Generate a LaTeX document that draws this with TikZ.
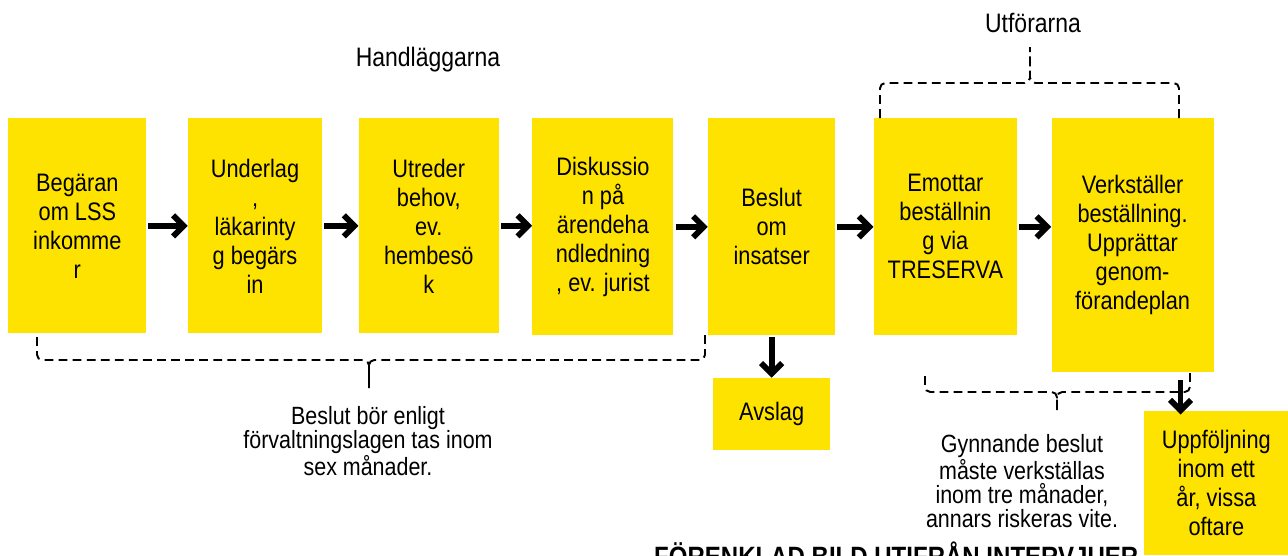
\documentclass[tikz,border=0pt]{standalone}
\usepackage{fontspec}
\setmainfont{Liberation Sans}[FakeStretch=0.86]
\usetikzlibrary{positioning,arrows.meta}
\definecolor{gul}{HTML}{FFE300}
\newcommand{\Skala}{0.02}
\tikzset{
	ruta/.style={fill=gul, inner sep=0pt, align=center, font=\fontsize{14.4}{16.5}\selectfont},
	pil/.style={line width=3.3pt, -{Straight Barb[length=6pt,width=12pt]}, shorten <=1pt, shorten >=0pt},
	streck/.style={dash pattern=on 5pt off 3pt, line width=1.1pt, rounded corners=3pt},
	notis/.style={align=center, font=\fontsize{14.2}{13.6}\selectfont},
	rubrik/.style={align=center, font=\fontsize{15.2}{16}\selectfont}
}

\begin{document}
\begin{tikzpicture}[x=\Skala cm, y=-\Skala cm]
		\useasboundingbox (0,0) rectangle (1288,555);
		% handlaggarnas steg
		\node[ruta, anchor=north west, minimum width=138*\Skala cm, minimum height=215*\Skala cm] (b1) at (8,118) {Begäran\\om LSS\\inkomme\\r};
		\node[ruta, right=41*\Skala cm of b1.north east, anchor=north west, minimum width=134*\Skala cm, minimum height=215*\Skala cm] (b2) {Underlag\\,\\läkarinty\\g begärs\\in};
		\node[ruta, right=36*\Skala cm of b2.north east, anchor=north west, minimum width=140*\Skala cm, minimum height=215*\Skala cm] (b3) {Utreder\\behov,\\ev.\\hembesö\\k};
		\node[ruta, right=33*\Skala cm of b3.north east, anchor=north west, minimum width=141*\Skala cm, minimum height=217*\Skala cm] (b4) {Diskussio\\n på\\ärendeha\\ndledning\\, ev. jurist};
		\node[ruta, right=34*\Skala cm of b4.north east, anchor=north west, minimum width=127*\Skala cm, minimum height=217*\Skala cm] (b5) {Beslut\\om\\insatser};
		% utforarnas steg
		\node[ruta, right=38*\Skala cm of b5.north east, anchor=north west, minimum width=143*\Skala cm, minimum height=217*\Skala cm] (b6) {Emottar\\beställnin\\g via\\TRESERVA};
		\node[ruta, right=34*\Skala cm of b6.north east, anchor=north west, minimum width=162*\Skala cm, minimum height=254*\Skala cm] (b7) {Verkställer\\beställning.\\Upprättar\\genom-\\förandeplan};
		\node[ruta, below=42*\Skala cm of b5, minimum width=117*\Skala cm, minimum height=72*\Skala cm] (avslag) {Avslag};
		\node[ruta, anchor=north west, minimum width=144*\Skala cm, minimum height=144*\Skala cm] (upp) at (1144,411) {Uppföljning\\inom ett\\år, vissa\\oftare};

		\foreach \a/\b in {b1/b2,b2/b3,b3/b4,b4/b5,b5/b6,b6/b7}
			\draw[pil] (\a.east) -- (\a.east -| \b.west);
		\draw[pil] (b5.south) -- (avslag.north);
		\coordinate (b7ned) at ([xshift=48*\Skala cm]b7.south);
		\draw[pil, shorten <=4pt, shorten >=-2pt] (b7ned) -- (b7ned |- upp.north);

		% klamrar
		\draw[streck] (37,337) -- (37,360) -- (369,360) -- (369,388);
		\draw[streck] (705,335) -- (705,360) -- (369,360) -- (369,388);
		\draw[streck] (880,118) -- (880,83) -- (1030,83) -- (1030,47);
		\draw[streck] (1179,118) -- (1179,83) -- (1030,83) -- (1030,47);
		\draw[streck] (925,376) -- (925,392) -- (1057,392) -- (1057,410);
		\draw[streck] (1190,373) -- (1190,392) -- (1057,392) -- (1057,410);

		\node[rubrik] (handl) at (428,60) {Handläggarna};
		\node[rubrik] (utf) at (1033,23) {Utförarna};
		\node[notis] (not1) at (368,441) {Beslut bör enligt\\förvaltningslagen tas inom\\sex månader.};
		\node[notis] (not2) at (1022,481) {Gynnande beslut\\måste verkställas\\inom tre månader,\\annars riskeras vite.};
		\node[anchor=base west, font=\fontsize{15.9}{18}\bfseries\selectfont] (fotnot) at (648,566) {FÖRENKLAD BILD UTIFRÅN INTERVJUER};
\end{tikzpicture}
\end{document}
